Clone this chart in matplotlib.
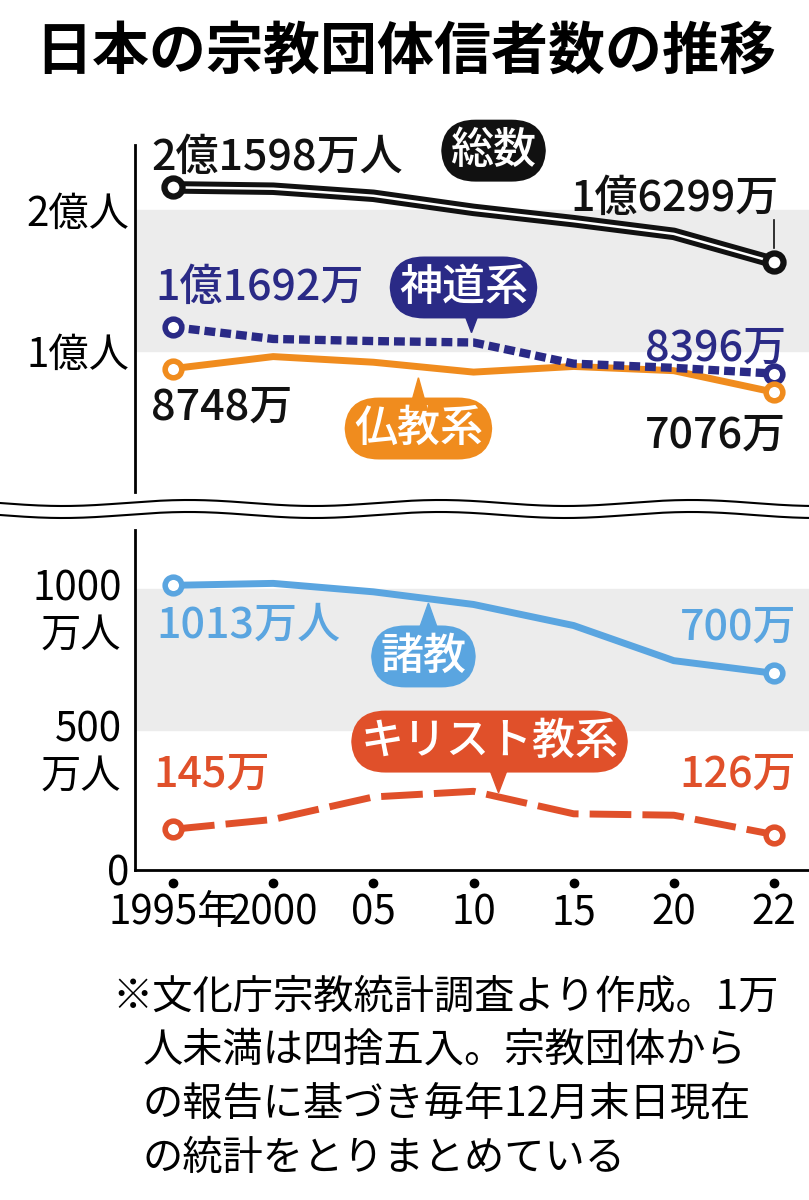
import numpy as np
import matplotlib.pyplot as plt
from matplotlib.patches import Polygon

plt.rcParams['font.family'] = 'Noto Sans CJK JP'

years = ['1995年', '2000', '05', '10', '15', '20', '22']
total = [21598, 21500, 21000, 20000, 19200, 18300, 16299]      # 万人
shinto = [11692, 10850, 10700, 10600, 9100, 8800, 8396]
bukkyo = [8748, 9600, 9200, 8500, 8900, 8600, 7076]
shokyo = [1013, 1020, 990, 945, 870, 745, 700]
kirisuto = [145, 180, 260, 280, 200, 195, 126]

x = np.arange(len(years))
fig = plt.figure(figsize=(8.09, 12), dpi=100)
W, H = 809, 1200

def axrect(l, t, r, b):
    return [l / W, 1 - b / H, (r - l) / W, (b - t) / H]

ax1 = fig.add_axes(axrect(135, 145, 809, 492))
ax2 = fig.add_axes(axrect(135, 530, 809, 870))

C_TOT, C_SHI, C_BUK, C_SHO, C_KIR = '#111111', '#2a2a86', '#f08c1e', '#5aa5e0', '#e0502a'

for ax in (ax1, ax2):
    ax.set_xlim(-0.38, 6.35)
    for s in ('top', 'right'):
        ax.spines[s].set_visible(False)
    ax.spines['left'].set_linewidth(2)
    ax.tick_params(axis='y', length=0, labelsize=29, pad=4)
    ax.tick_params(axis='x', length=0)

ax1.set_ylim(0, 24600)
ax1.axhspan(10000, 20000, color='#ececec', zorder=0)
ax1.spines['bottom'].set_visible(False)
ax1.set_xticks([])
ax1.set_yticks([10000, 20000])
ax1.set_yticklabels(['1億人', '2億人'])

ax2.set_ylim(0, 1210)
ax2.axhspan(500, 1000, color='#ececec', zorder=0)
ax2.spines['bottom'].set_linewidth(2)
ax2.set_yticks([0, 500, 1000])
ax2.set_yticklabels(['0', '', ''])
tr = ax2.get_yaxis_transform()
for v in (500, 1000):
    ax2.text(-0.02, v, str(v), transform=tr, fontsize=29, ha='right', va='center')
    ax2.text(-0.02, v - 165, '万人', transform=tr, fontsize=29, ha='right', va='center')
ax2.set_xticks(x)
ax2.set_xticklabels(years, fontsize=29)
ax2.tick_params(axis='x', pad=16)
ax2.plot(x, [-45] * len(x), 'o', color='black', ms=6, clip_on=False, zorder=5)

ax1.plot(x, total, color=C_TOT, lw=9, solid_capstyle='round', zorder=3)
ax1.plot(x, total, color='white', lw=1.8, zorder=4)
ax1.plot(x[[0, -1]], np.array(total)[[0, -1]], 'o', ms=13, mfc='white', mec=C_TOT, mew=4.5, zorder=5)
ax1.plot(x, shinto, color=C_SHI, lw=6, ls=(0, (1.3, 0.6)), zorder=3)
ax1.plot(x[[0, -1]], np.array(shinto)[[0, -1]], 'o', ms=12, mfc='white', mec=C_SHI, mew=4, zorder=5)
ax1.plot(x, bukkyo, color=C_BUK, lw=5, zorder=2)
ax1.plot(x[[0, -1]], np.array(bukkyo)[[0, -1]], 'o', ms=12, mfc='white', mec=C_BUK, mew=4, zorder=5)
ax2.plot(x, shokyo, color=C_SHO, lw=5, zorder=3)
ax2.plot(x[[0, -1]], np.array(shokyo)[[0, -1]], 'o', ms=12, mfc='white', mec=C_SHO, mew=4, zorder=5)
ax2.plot(x, kirisuto, color=C_KIR, lw=5, ls=(0, (6, 1.6)), zorder=3)
ax2.plot(x[[0, -1]], np.array(kirisuto)[[0, -1]], 'o', ms=12, mfc='white', mec=C_KIR, mew=4, zorder=5)

fs = 31
fw = 'medium'
ax1.text(-0.22, 23700, '2億1598万人', fontsize=fs, color=C_TOT, weight=fw, va='center')
ax1.text(6.05, 20800, '1億6299万', fontsize=fs, color=C_TOT, weight=fw, va='center', ha='right')
ax1.plot([6, 6], [17300, 19300], color=C_TOT, lw=1.2)
ax1.text(-0.18, 14500, '1億1692万', fontsize=fs, color=C_SHI, weight=fw, va='center')
ax1.text(6.12, 10200, '8396万', fontsize=fs, color=C_SHI, weight=fw, va='center', ha='right')
ax1.text(-0.22, 6000, '8748万', fontsize=fs, color=C_TOT, weight=fw, va='center')
ax1.text(6.12, 4000, '7076万', fontsize=fs, color=C_TOT, weight=fw, va='center', ha='right')
ax2.text(-0.17, 870, '1013万人', fontsize=fs, color=C_SHO, weight=fw, va='center')
ax2.text(6.22, 865, '700万', fontsize=fs, color=C_SHO, weight=fw, va='center', ha='right')
ax2.text(-0.2, 340, '145万', fontsize=fs, color=C_KIR, weight=fw, va='center')
ax2.text(6.22, 340, '126万', fontsize=fs, color=C_KIR, weight=fw, va='center', ha='right')

def bubble(ax, xc, yc, s, color, tip):
    ax.text(xc, yc, s, fontsize=fs, color='white', weight=fw, ha='center', va='center', zorder=6,
            bbox=dict(boxstyle='round,pad=0.22,rounding_size=0.8', fc=color, ec='none'))
    tx, ty, dy = tip
    if dy:
        ax.add_patch(Polygon([[tx - 0.09, ty], [tx + 0.09, ty], [tx, ty + dy]], closed=True,
                             color=color, zorder=6))

bubble(ax1, 3.2, 24200, '総数', C_TOT, (0, 0, 0))
bubble(ax1, 2.9, 14500, '神道系', C_SHI, (2.98, 13000, -1700))
bubble(ax1, 2.45, 4500, '仏教系', C_BUK, (2.45, 5800, 2300))
bubble(ax2, 2.5, 760, '諸教', C_SHO, (2.55, 860, 90))
bubble(ax2, 3.16, 457, 'キリスト教系', C_KIR, (3.25, 360, -85))

xs = np.linspace(0, W, 400)
for yb in (503, 515):
    fig.add_artist(plt.Line2D(xs / W, 1 - (yb + 3 * np.sin(xs / 40)) / H, color='black', lw=1.5))

fig.text(35 / W, 1 - 52 / H, '日本の宗教団体信者数の推移', fontsize=41, weight='bold', va='center')
fig.text(112 / W, 1 - 997 / H, '※文化庁宗教統計調査より作成。1万', fontsize=29, va='center')
note = ['人未満は四捨五入。宗教団体から', 'の報告に基づき毎年12月末日現在', 'の統計をとりまとめている']
for i, ln in enumerate(note):
    fig.text(143 / W, 1 - (1050 + 54 * i) / H, ln, fontsize=29, va='center')

fig.savefig('out.png', dpi=100)
